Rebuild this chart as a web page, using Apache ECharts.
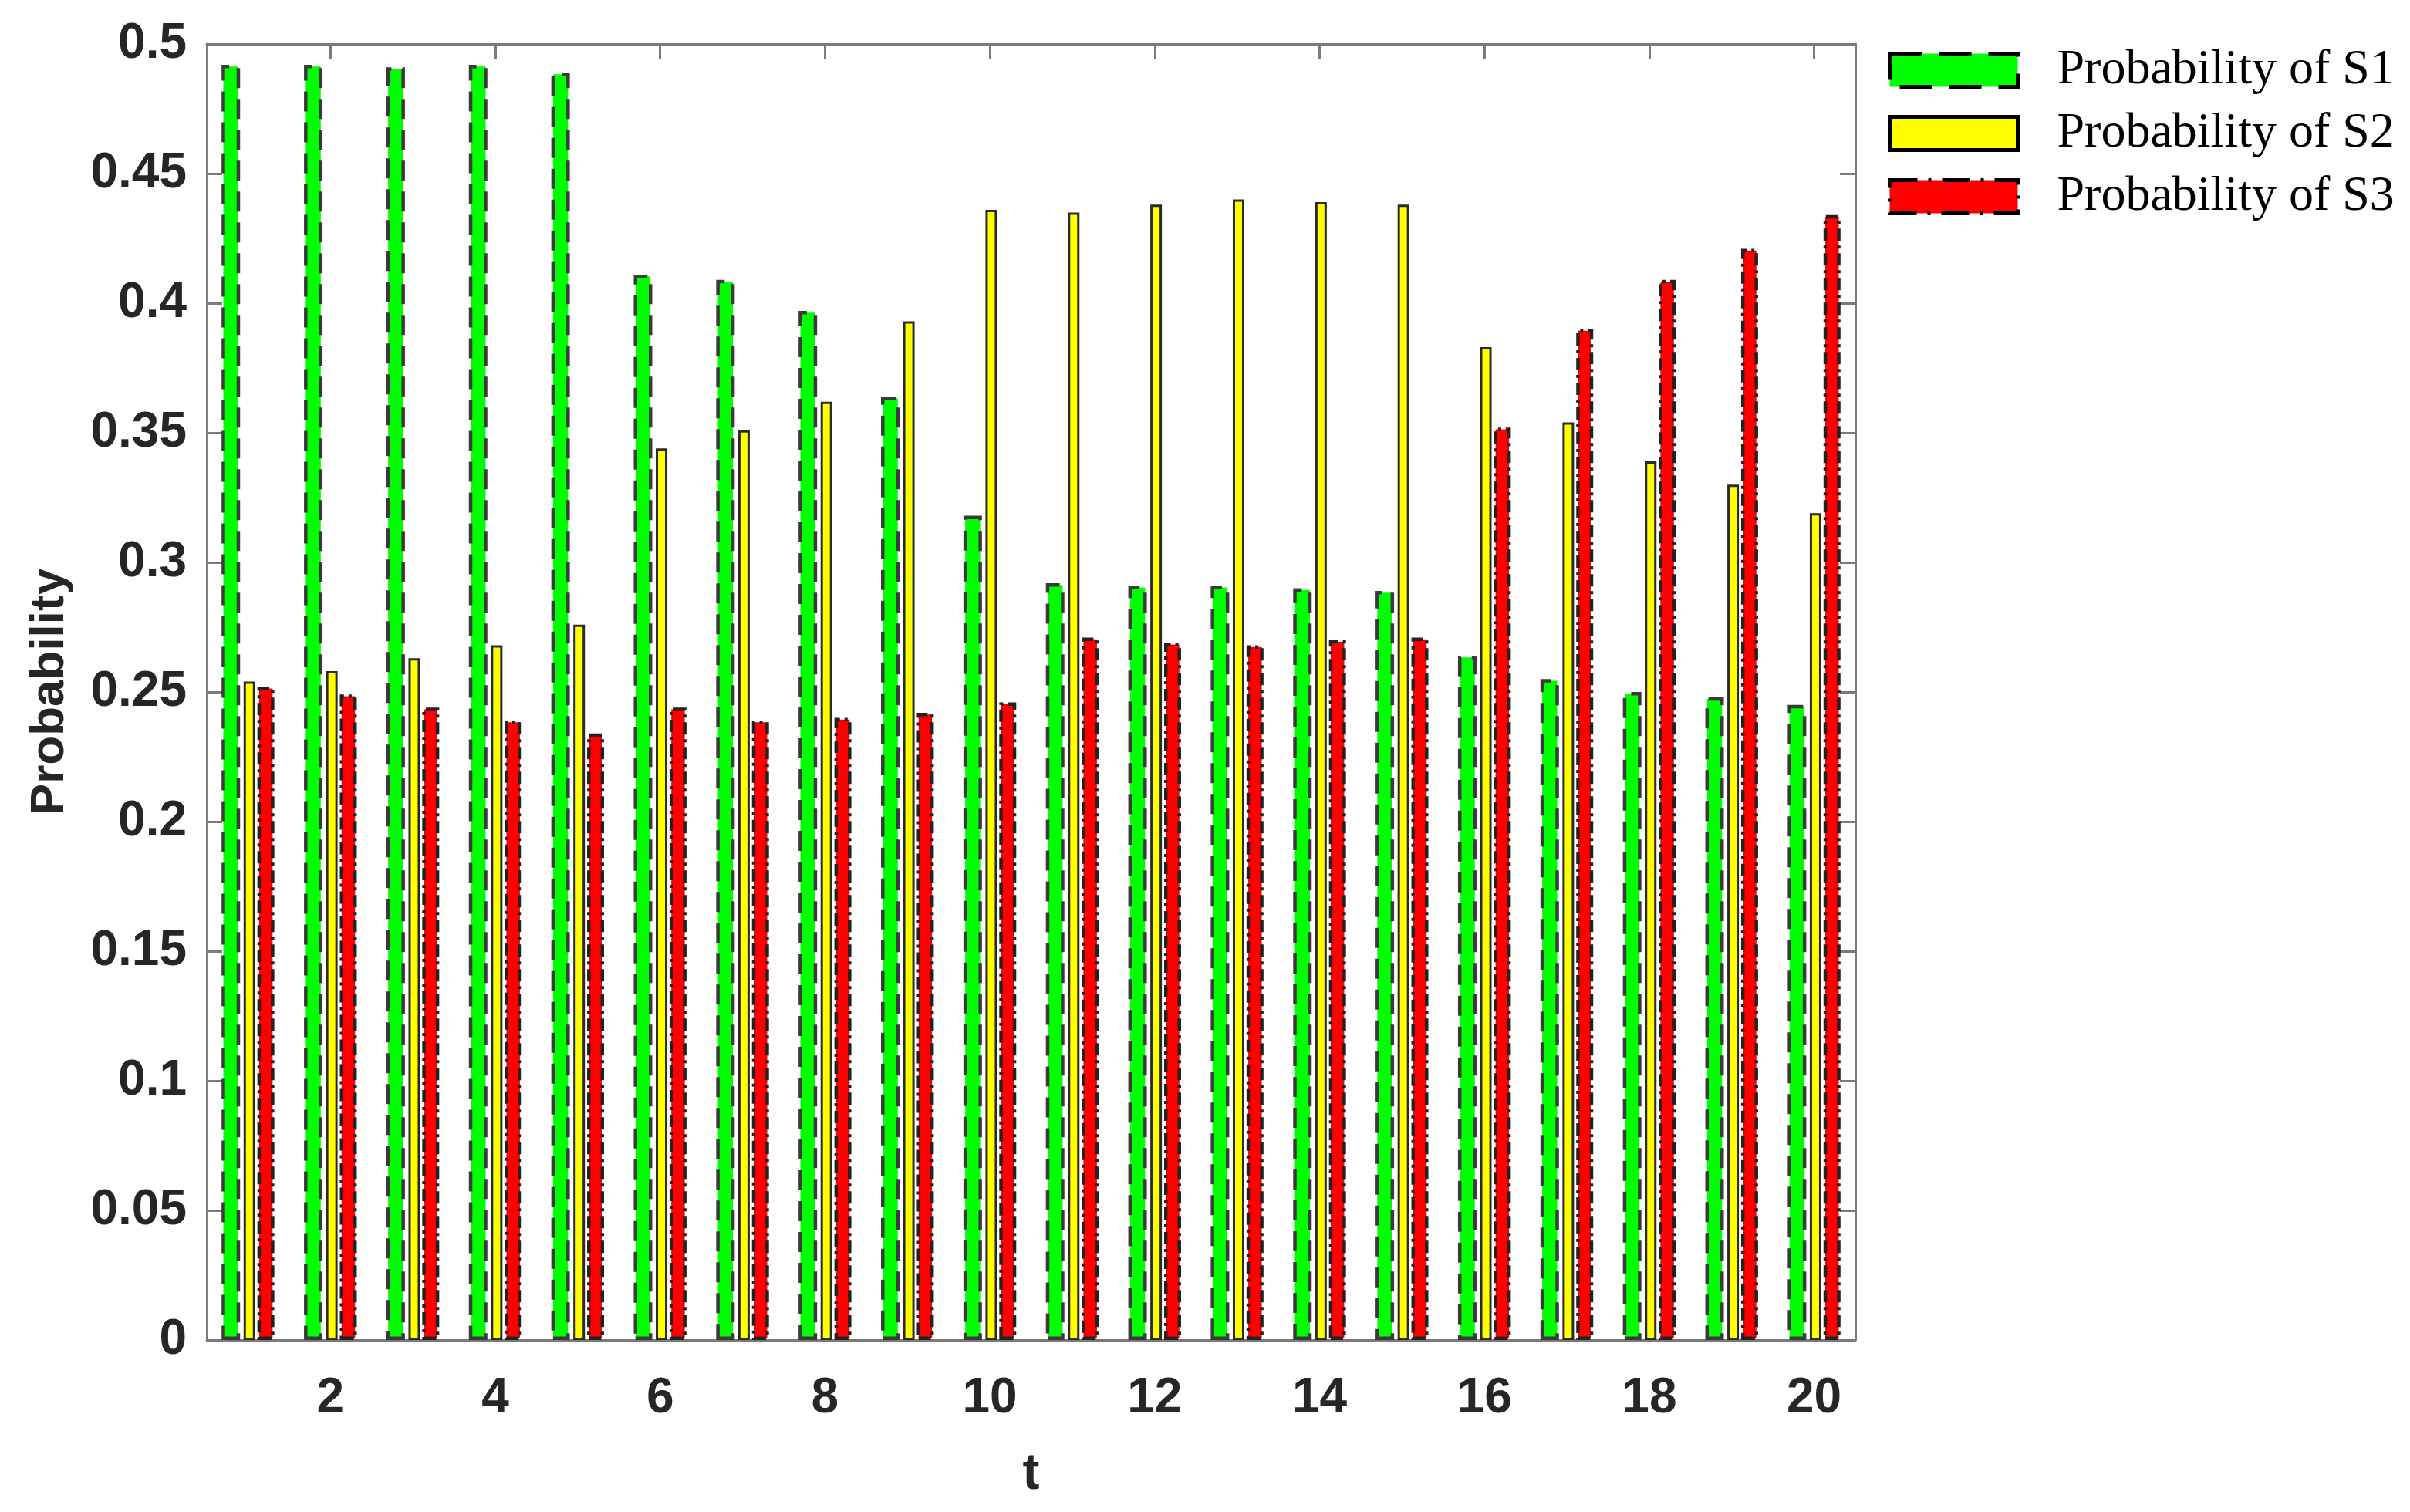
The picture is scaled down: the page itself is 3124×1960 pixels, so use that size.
<!DOCTYPE html>
<html>
<head>
<meta charset="utf-8">
<script src="https://cdn.jsdelivr.net/npm/echarts@6/dist/echarts.min.js"></script>
<style>
  html, body { margin: 0; padding: 0; background: #ffffff; }
  #chart { width: 3124px; height: 1960px; }
</style>
</head>
<body>
<div id="chart"></div>
<script>
// ---- Data ----
const categories = ['1','2','3','4','5','6','7','8','9','10','11','12','13','14','15','16','17','18','19','20'];
const probS1 = [0.492, 0.492, 0.491, 0.492, 0.489, 0.411, 0.409, 0.397, 0.364, 0.318,
                0.292, 0.291, 0.291, 0.290, 0.289, 0.264, 0.255, 0.250, 0.248, 0.245];
const probS2 = [0.254, 0.258, 0.263, 0.268, 0.276, 0.344, 0.351, 0.362, 0.393, 0.436,
                0.435, 0.438, 0.440, 0.439, 0.438, 0.383, 0.354, 0.339, 0.330, 0.319];
const probS3 = [0.252, 0.249, 0.244, 0.239, 0.234, 0.244, 0.239, 0.240, 0.242, 0.246,
                0.271, 0.269, 0.268, 0.270, 0.271, 0.352, 0.390, 0.409, 0.421, 0.434];
const seriesNames = ['Probability of S1', 'Probability of S2', 'Probability of S3'];
const yMin = 0, yMax = 0.5, yStep = 0.05;
const xAxisName = 't';
const yAxisName = 'Probability';

// ---- Styling ----
const axisGray = '#7a7a7a';
const textDark = '#262626';
const sansFont = 'Liberation Sans, Arial, sans-serif';
const serifFont = 'Liberation Serif, Times New Roman, serif';
const evenOnly = function (index) { return index % 2 === 1; };

const chart = echarts.init(document.getElementById('chart'), null, { renderer: 'canvas' });

const tickStyle = { show: true, inside: true, length: 20, lineStyle: { color: axisGray, width: 3 } };
const lineStyle = { show: true, onZero: false, lineStyle: { color: axisGray, width: 3 } };

const option = {
  backgroundColor: '#ffffff',
  animation: false,
  grid: { left: 268, right: 719, top: 57, bottom: 223, containLabel: false },
  legend: {
    orient: 'vertical',
    left: 2447,
    top: 59,
    padding: 0,
    itemWidth: 166,
    itemHeight: 43,
    itemGap: 18,
    icon: 'rect',
    textStyle: {
      fontFamily: serifFont,
      fontSize: 64,
      lineHeight: 64,
      color: '#000000',
      padding: [0, 0, 0, 46]
    },
    data: [
      { name: seriesNames[0], icon: 'rect',
        itemStyle: { color: '#00ff00', borderColor: '#000000', borderWidth: 5, borderType: [42, 22] } },
      { name: seriesNames[1], icon: 'rect',
        itemStyle: { color: '#ffff00', borderColor: '#000000', borderWidth: 5, borderType: 'solid' } },
      { name: seriesNames[2], icon: 'rect',
        itemStyle: { color: '#ff0000', borderColor: '#000000', borderWidth: 5, borderType: [36, 14, 4, 14] } }
    ]
  },
  xAxis: [
    {
      type: 'category',
      data: categories,
      position: 'bottom',
      boundaryGap: true,
      axisLine: lineStyle,
      axisTick: Object.assign({}, tickStyle, { alignWithLabel: true, interval: evenOnly }),
      axisLabel: {
        interval: evenOnly,
        margin: 44,
        fontFamily: sansFont,
        fontWeight: 'bold',
        fontSize: 64,
        color: textDark
      },
      splitLine: { show: false },
      name: xAxisName,
      nameLocation: 'middle',
      nameGap: 142,
      nameTextStyle: { fontFamily: sansFont, fontWeight: 'bold', fontSize: 66, color: textDark }
    },
    {
      type: 'category',
      data: categories,
      position: 'top',
      boundaryGap: true,
      axisLine: lineStyle,
      axisTick: Object.assign({}, tickStyle, { alignWithLabel: true, interval: evenOnly }),
      axisLabel: { show: false },
      splitLine: { show: false }
    }
  ],
  yAxis: [
    {
      type: 'value',
      min: yMin,
      max: yMax,
      interval: yStep,
      position: 'left',
      axisLine: lineStyle,
      axisTick: tickStyle,
      axisLabel: {
        margin: 26,
        fontFamily: sansFont,
        fontWeight: 'bold',
        fontSize: 64,
        color: textDark
      },
      splitLine: { show: false },
      name: yAxisName,
      nameLocation: 'middle',
      nameGap: 172,
      nameRotate: 90,
      nameTextStyle: { fontFamily: sansFont, fontWeight: 'bold', fontSize: 62, color: textDark }
    },
    {
      type: 'value',
      min: yMin,
      max: yMax,
      interval: yStep,
      position: 'right',
      axisLine: lineStyle,
      axisTick: tickStyle,
      axisLabel: { show: false },
      splitLine: { show: false }
    }
  ],
  series: [
    {
      name: seriesNames[0],
      type: 'bar',
      data: probS1,
      barWidth: 24,
      barGap: '19%',
      itemStyle: { color: '#00ff00', borderColor: '#3a3a3a', borderWidth: 4.5, borderType: [26, 14] }
    },
    {
      name: seriesNames[1],
      type: 'bar',
      data: probS2,
      barWidth: 15,
      barGap: '19%',
      itemStyle: { color: '#ffff00', borderColor: '#2a2a2a', borderWidth: 3, borderType: 'solid' }
    },
    {
      name: seriesNames[2],
      type: 'bar',
      data: probS3,
      barWidth: 22,
      barGap: '19%',
      itemStyle: { color: '#ff0000', borderColor: '#222222', borderWidth: 4.5, borderType: [16, 6, 4, 6] }
    }
  ]
};

chart.setOption(option);
</script>
</body>
</html>
